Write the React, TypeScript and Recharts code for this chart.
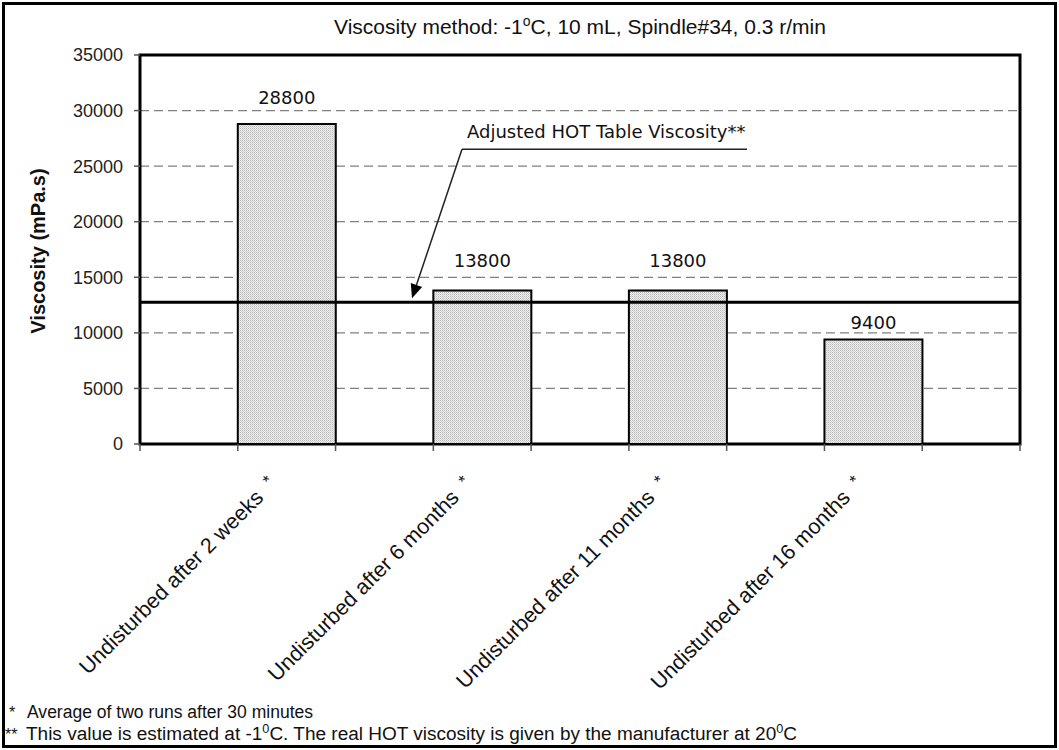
import React from 'react';
import {
    BarChart,
    Bar,
    XAxis,
    YAxis,
    CartesianGrid,
    ReferenceLine,
    ReferenceArea,
    LabelList,
} from 'recharts';

const periods = [
    'Undisturbed after 2 weeks',
    'Undisturbed after 6 months',
    'Undisturbed after 11 months',
    'Undisturbed after 16 months',
];
const viscosity = [28800, 13800, 13800, 9400];
const hotViscosity = 12750;
const yTicks = [0, 5000, 10000, 15000, 20000, 25000, 30000, 35000];

// each bar gets its own slot with an empty slot on either side
const data: { slot: string; label: string; value: number | null }[] = [];
periods.forEach((p, i) => {
    data.push({ slot: 'gap' + i, label: '', value: null });
    data.push({ slot: 'bar' + i, label: p, value: viscosity[i] });
});
data.push({ slot: 'gap' + periods.length, label: '', value: null });

const W = 1059;
const H = 750;
const margin = { top: 55, right: 39, bottom: 0, left: 0 };
const yAxisW = 140;
const xAxisH = 306;
const plotLeft = margin.left + yAxisW;
const slotW = (W - margin.left - margin.right - yAxisW) / data.length;
// the sheet placed the value labels a bit unevenly above the bars
const labelLift = [20, 24, 24, 11];

const SANS = '"Liberation Sans", Arial, sans-serif';
const VERDANA = '"DejaVu Sans", Verdana, sans-serif';
const NARROW = '"Liberation Sans Narrow", "Arial Narrow", "Liberation Sans", sans-serif';

const XTick = (props: any) => {
    const { x, y, payload, index } = props;
    const item = data.find((d) => d.slot === payload.value);
    const half = slotW / 2;
    return (
        <g>
            <line x1={x - half} y1={y} x2={x - half} y2={y + 7} stroke="#555" strokeWidth={1.5} />
            {index === data.length - 1 && (
                <line x1={x + half} y1={y} x2={x + half} y2={y + 7} stroke="#555" strokeWidth={1.5} />
            )}
            {item && item.label && (
                <g transform={`translate(${x - 22},${y + 55}) rotate(-45)`}>
                    <text x={0} y={0} textAnchor="end" fontSize={21.5} fontFamily={SANS} fill="#111">
                        {item.label}
                    </text>
                    <text x={12} y={-5} fontSize={17} fontFamily={SANS} fill="#111">
                        *
                    </text>
                </g>
            )}
        </g>
    );
};

const ValueLabel = (props: any) => {
    const { x, y, width, value } = props;
    if (value == null) return null;
    const slot = Math.round((x - plotLeft) / slotW);
    const bar = Math.floor(slot / 2);
    return (
        <text
            x={x + width / 2}
            y={y - (labelLift[bar] ?? 20)}
            textAnchor="middle"
            fontSize={18}
            fontFamily={VERDANA}
            fill="#111"
        >
            {value}
        </text>
    );
};

const HotNote = (props: any) => {
    const vb = props.viewBox || {};
    const lx = vb.x ?? 0;
    const ly = vb.y ?? 0;
    const tip = { x: lx + 272, y: ly - 4 };
    const start = { x: lx + 322, y: ly - 153 };
    const dx = tip.x - start.x;
    const dy = tip.y - start.y;
    const len = Math.sqrt(dx * dx + dy * dy);
    const ux = dx / len;
    const uy = dy / len;
    const bx = tip.x - ux * 14;
    const by = tip.y - uy * 14;
    const px = -uy * 6;
    const py = ux * 6;
    return (
        <g>
            <text x={lx + 327} y={ly - 164} fontSize={18} fontFamily={VERDANA} fill="#111">
                Adjusted HOT Table Viscosity**
            </text>
            <line x1={start.x} y1={start.y} x2={lx + 607} y2={start.y} stroke="#222" strokeWidth={1.5} />
            <line x1={start.x} y1={start.y} x2={bx} y2={by} stroke="#222" strokeWidth={1.5} />
            <polygon
                points={`${tip.x},${tip.y} ${bx + px},${by + py} ${bx - px},${by - py}`}
                fill="#000"
            />
        </g>
    );
};

export default function App() {
    return (
        <div style={{ position: 'absolute', left: 0, top: 0, width: W, height: H, background: '#fff' }}>
            <div
                style={{
                    position: 'absolute',
                    left: 2,
                    top: 2,
                    width: W - 4,
                    height: H - 4,
                    border: '3px solid #000',
                    boxSizing: 'border-box',
                }}
            />
            <div style={{ position: 'absolute', left: 0, top: 0 }}>
                <BarChart width={W} height={H} data={data} margin={margin} barCategoryGap={0} barGap={0}>
                    <defs>
                        <pattern id="dots" width="2" height="2" patternUnits="userSpaceOnUse">
                            <rect width="2" height="2" fill="#eeeeee" />
                            <rect width="1" height="1" fill="#b8b8b8" />
                            <rect x="1" y="1" width="1" height="1" fill="#d2d2d2" />
                        </pattern>
                    </defs>
                    <CartesianGrid vertical={false} stroke="#808080" strokeDasharray="9 5" strokeWidth={1.2} />
                    <ReferenceArea y1={0} y2={35000} fill="none" stroke="#000" strokeWidth={3} ifOverflow="visible" />
                    <XAxis
                        dataKey="slot"
                        interval={0}
                        height={xAxisH}
                        axisLine={false}
                        tickLine={false}
                        tickSize={0}
                        tickMargin={0}
                        tick={<XTick />}
                    />
                    <YAxis
                        width={yAxisW}
                        domain={[0, 35000]}
                        ticks={yTicks}
                        interval={0}
                        axisLine={false}
                        tickSize={6}
                        tickMargin={11}
                        tickLine={{ stroke: '#555', strokeWidth: 1.5 }}
                        tick={{ fontSize: 18, fontFamily: SANS, fill: '#222' }}
                    />
                    <Bar dataKey="value" fill="url(#dots)" stroke="#000" strokeWidth={2} isAnimationActive={false}>
                        <LabelList dataKey="value" content={<ValueLabel />} />
                    </Bar>
                    <ReferenceLine
                        y={hotViscosity}
                        stroke="#000"
                        strokeWidth={3}
                        label={(p: any) => <HotNote {...p} />}
                    />
                    <text x={580} y={34} textAnchor="middle" fontSize={21} fontFamily={SANS} fill="#111">
                        Viscosity method: -1
                        <tspan dy={-8} fontSize={14}>o</tspan>
                        <tspan dy={8}>C, 10 mL, Spindle#34, 0.3 r/min</tspan>
                    </text>
                    <text
                        transform="translate(45,251) rotate(-90)"
                        textAnchor="middle"
                        fontSize={20}
                        fontWeight="bold"
                        fontFamily={SANS}
                        fill="#111"
                    >
                        Viscosity (mPa.s)
                    </text>
                    <text x={9} y={718} fontSize={16} fontFamily={NARROW} fill="#111">
                        *
                    </text>
                    <text
                        x={27}
                        y={718}
                        fontSize={18}
                        fontFamily={NARROW}
                        fill="#111"
                        textLength={286}
                        lengthAdjust="spacingAndGlyphs"
                    >
                        Average of two runs after 30 minutes
                    </text>
                    <text x={5} y={740} fontSize={16} fontFamily={NARROW} fill="#111">
                        **
                    </text>
                    <text
                        x={26}
                        y={740}
                        fontSize={18}
                        fontFamily={NARROW}
                        fill="#111"
                        textLength={771}
                        lengthAdjust="spacingAndGlyphs"
                    >
                        This value is estimated at -1
                        <tspan dy={-7} fontSize={12}>0</tspan>
                        <tspan dy={7}>C. The real HOT viscosity is given by the manufacturer at 20</tspan>
                        <tspan dy={-7} fontSize={12}>0</tspan>
                        <tspan dy={7}>C</tspan>
                    </text>
                </BarChart>
            </div>
        </div>
    );
}
